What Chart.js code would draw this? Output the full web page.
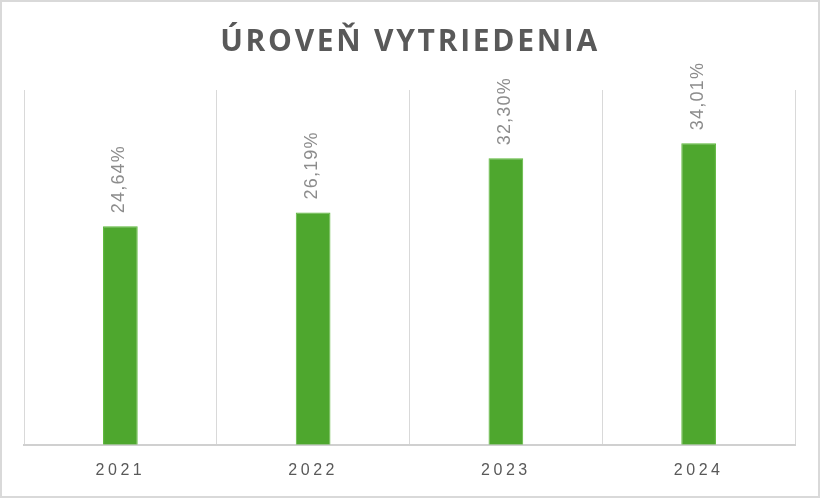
<!DOCTYPE html>
<html>
<head>
<meta charset="utf-8">
<script src="https://cdn.jsdelivr.net/npm/chart.js@4"></script>
<style>
  body { margin: 0; background: #fff; }
  #box { width: 820px; height: 498px; box-sizing: border-box; border: 2px solid #d9d9d9; }
</style>
</head>
<body>
<div id="box"><canvas id="myChart" width="816" height="494"></canvas></div>
<script>
const titleText = 'ÚROVEŇ VYTRIEDENIA';
const years = ['2021', '2022', '2023', '2024'];
const shares = [24.64, 26.19, 32.30, 34.01];

// title and rotated value labels, drawn by hand
const extras = {
  id: 'extras',
  beforeDraw(chart) {
    chart.ctx.letterSpacing = '3.5px';
  },
  afterDraw(chart) {
    const ctx = chart.ctx;
    ctx.save();
    ctx.letterSpacing = '2.7px';
    ctx.font = 'bold 30px "Open Sans"';
    ctx.fillStyle = '#595959';
    ctx.textAlign = 'center';
    ctx.textBaseline = 'middle';
    ctx.fillText(titleText, chart.width / 2, 40);
    ctx.restore();

    ctx.save();
    ctx.letterSpacing = '1.2px';
    ctx.font = '18px "Liberation Sans"';
    ctx.fillStyle = '#8c8c8c';
    ctx.textAlign = 'left';
    ctx.textBaseline = 'middle';
    chart.getDatasetMeta(0).data.forEach((bar, i) => {
      ctx.save();
      ctx.translate(bar.x - 1, bar.y - 13);
      ctx.rotate(-Math.PI / 2);
      ctx.fillText(shares[i].toFixed(2).replace('.', ',') + '%', 0, 0);
      ctx.restore();
    });
    ctx.restore();
  }
};

const ctx = document.getElementById('myChart').getContext('2d');
const myChart = new Chart(ctx, {
  type: 'bar',
  data: {
    labels: years,
    datasets: [{
      data: shares,
      backgroundColor: '#4ea72e',
      borderColor: '#5cb83a',
      borderWidth: 1,
      categoryPercentage: 1,
      barPercentage: 0.18
    }]
  },
  options: {
    responsive: false,
    animation: false,
    layout: { padding: { top: 88, left: 22, right: 23, bottom: 0 } },
    plugins: { legend: { display: false }, tooltip: { enabled: false } },
    scales: {
      x: {
        grid: { color: '#d9d9d9', drawTicks: false, offset: true },
        border: { color: '#d0d0d0', width: 2 },
        ticks: { color: '#595959', padding: 16, font: { family: 'Liberation Sans', size: 16 } }
      },
      y: { display: false, min: 0, max: 40 }
    }
  },
  plugins: [extras]
});
</script>
</body>
</html>
